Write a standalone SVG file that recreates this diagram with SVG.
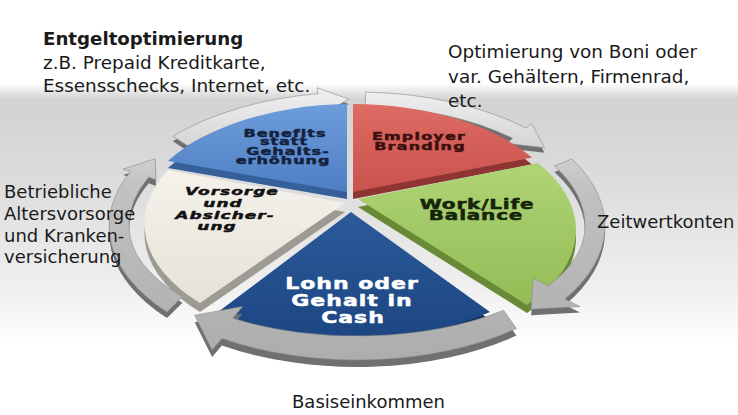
<svg xmlns="http://www.w3.org/2000/svg" width="738" height="415" viewBox="0 0 738 415">
<style>
.lbl{font-family:"DejaVu Sans",Verdana,sans-serif;font-size:18.4px;fill:#1a1a1a}
.w{font-family:"DejaVu Sans",Verdana,sans-serif;font-weight:bold;text-anchor:middle;stroke-width:0.7px;stroke-linejoin:round}
.side{fill:#707070}
.face{fill:url(#arrowFace);stroke:#8a8a8a;stroke-width:0.6}
</style>
<defs>
<linearGradient id="bg" x1="0" y1="0" x2="0" y2="1">
<stop offset="0" stop-color="#ffffff"/>
<stop offset="0.2" stop-color="#ffffff"/>
<stop offset="0.24" stop-color="#d2d2d2"/>
<stop offset="0.45" stop-color="#dddddd"/>
<stop offset="0.7" stop-color="#f0f0f0"/>
<stop offset="0.83" stop-color="#ffffff"/>
<stop offset="1" stop-color="#ffffff"/>
</linearGradient>
<linearGradient id="arrowFace" gradientUnits="userSpaceOnUse" x1="0" y1="85" x2="0" y2="375">
<stop offset="0" stop-color="#f2f2f2"/>
<stop offset="0.35" stop-color="#c2c2c2"/>
<stop offset="1" stop-color="#ababab"/>
</linearGradient>
<linearGradient id="gBen" x1="0" y1="0" x2="0" y2="1"><stop offset="0" stop-color="#6d9cdb"/><stop offset="1" stop-color="#4e7fc3"/></linearGradient>
<linearGradient id="gRed" x1="0" y1="0" x2="0" y2="1"><stop offset="0" stop-color="#de6b64"/><stop offset="1" stop-color="#c9524d"/></linearGradient>
<linearGradient id="gGrn" x1="0" y1="0" x2="0" y2="1"><stop offset="0" stop-color="#afd475"/><stop offset="1" stop-color="#93bc56"/></linearGradient>
<linearGradient id="gLoh" x1="0" y1="0" x2="0" y2="1"><stop offset="0" stop-color="#2b5a9a"/><stop offset="1" stop-color="#1d4682"/></linearGradient>
<linearGradient id="gBei" x1="0" y1="0" x2="0" y2="1"><stop offset="0" stop-color="#f4f2eb"/><stop offset="1" stop-color="#e5e2d7"/></linearGradient>
<path id="wBen" d="M347,192 L347,104 A215 118 0 0 0 168,161 Z"/>
<path id="wRed" d="M353,192 L353,104 A215 118 0 0 1 532,157.5 Z"/>
<path id="wGrn" d="M358,199 L538,163 A215 118 0 0 1 527,305 Z"/>
<path id="wLoh" d="M351,212 L490,312 A215 118 0 0 1 218,312 Z"/>
<path id="wBei" d="M345,203 L200,303 A215 118 0 0 1 168,170 Z"/>
<path id="aA" d="M172.7,136.3 A248 134 0 0 1 318.2,93.6 L317,87.7 L348.7,99.1 L322.6,114.4 L321.3,107.5 A228 120 0 0 0 187.6,145.7 Z"/>
<path id="aB" d="M365.7,92.1 A248 134 0 0 1 526.1,128 L531.6,123.6 L544.5,147.8 L507,143.4 L512.5,138.2 A228 120 0 0 0 365,106.1 Z"/>
<path id="aC" d="M571.8,159 A248 134 0 0 1 565,299 L580.1,306.6 L531.1,309.2 L533.1,278.3 L548.2,285.9 A228 110 0 0 0 585,226 A228 120 0 0 0 554.4,166 Z"/>
<path id="aD" d="M516.4,328.6 A248 134 0 0 1 221.9,338.4 L212.1,350.1 L194.7,315.2 L242.6,306.5 L232.8,318.3 A228 110 0 0 0 503.6,310.3 Z"/>
<path id="aE" d="M167,312.1 A248 134 0 0 1 130.5,171.5 L123.1,169.1 L155.2,158.7 L156,180 L148.7,177.2 A228 120 0 0 0 129,226 A228 110 0 0 0 182.4,296.7 Z"/>
</defs>

<rect x="0" y="0" width="738" height="415" fill="url(#bg)"/>

<g id="arrows-back">
<use href="#aA" class="side" transform="translate(0,5)"/>
<use href="#aA" class="face"/>
<use href="#aB" class="side" transform="translate(0,5)"/>
<use href="#aB" class="face"/>
</g>

<g id="node-benefits">
<use href="#wBen" fill="#35609a" transform="translate(0,7)"/>
<use href="#wBen" fill="url(#gBen)"/>
<g fill="#14213d" stroke="#14213d" style="font-size:16px;letter-spacing:1px">
<text class="w" transform="translate(285,136.5) scale(1,0.6)">Benefits</text>
<text class="w" transform="translate(284,145.3) scale(1,0.6)">statt</text>
<text class="w" transform="translate(288,154.5) scale(1,0.6)">Gehalts-</text>
<text class="w" transform="translate(283,163.5) scale(1,0.6)">erhöhung</text>
</g>
</g>

<g id="node-employer">
<use href="#wRed" fill="#8e3531" transform="translate(0,7)"/>
<use href="#wRed" fill="url(#gRed)"/>
<g fill="#3d1010" stroke="#3d1010" style="font-size:16px;letter-spacing:1.2px">
<text class="w" transform="translate(419,140) scale(1,0.62)">Employer</text>
<text class="w" transform="translate(420,149.5) scale(1,0.62)">Branding</text>
</g>
</g>

<g id="node-worklife">
<use href="#wGrn" fill="#688a36" transform="translate(0,8)"/>
<use href="#wGrn" fill="url(#gGrn)"/>
<g fill="#16240a" stroke="#16240a" style="font-size:20px;letter-spacing:0.8px">
<text class="w" transform="translate(477,209) scale(1,0.68)">Work/Life</text>
<text class="w" transform="translate(476,220) scale(1,0.68)">Balance</text>
</g>
</g>

<g id="node-lohn">
<use href="#wLoh" fill="#142f58" transform="translate(0,8)"/>
<use href="#wLoh" fill="url(#gLoh)"/>
<g fill="#ffffff" stroke="#ffffff" style="font-size:22px;letter-spacing:1px">
<text class="w" transform="translate(352,289) scale(1,0.75)">Lohn oder</text>
<text class="w" transform="translate(352,306) scale(1,0.75)">Gehalt in</text>
<text class="w" transform="translate(353,323) scale(1,0.75)">Cash</text>
</g>
</g>

<g id="node-vorsorge">
<use href="#wBei" fill="#9c9a92" transform="translate(0,9)"/>
<use href="#wBei" fill="url(#gBei)"/>
<g fill="#111111" stroke="#111111" style="font-size:17px;letter-spacing:1px;font-style:italic">
<text class="w" transform="translate(232,195) scale(1,0.66)">Vorsorge</text>
<text class="w" transform="translate(223,207) scale(1,0.66)">und</text>
<text class="w" transform="translate(225,219) scale(1,0.66)">Absicher-</text>
<text class="w" transform="translate(217,229.5) scale(1,0.66)">ung</text>
</g>
</g>

<g id="arrows-front">
<use href="#aC" class="side" transform="translate(0,6)"/>
<use href="#aC" class="face"/>
<use href="#aD" class="side" transform="translate(0,7)"/>
<use href="#aD" class="face"/>
<use href="#aE" class="side" transform="translate(0,6)"/>
<use href="#aE" class="face"/>
</g>

<g id="label-entgelt">
<text class="lbl"><tspan x="43" y="45" font-weight="bold" style="font-size:18.2px">Entgeltoptimierung</tspan><tspan x="43" y="69">z.B. Prepaid Kreditkarte,</tspan><tspan x="43" y="92">Essensschecks, Internet, etc.</tspan></text>
</g>
<g id="label-boni">
<text class="lbl"><tspan x="448" y="58">Optimierung von Boni oder</tspan><tspan x="448" y="83">var. Gehältern, Firmenrad,</tspan><tspan x="448" y="107">etc.</tspan></text>
</g>
<g id="label-altersvorsorge">
<text class="lbl" style="font-size:18px"><tspan x="4" y="198">Betriebliche</tspan><tspan x="4" y="220">Altersvorsorge</tspan><tspan x="4" y="242">und Kranken-</tspan><tspan x="4" y="263">versicherung</tspan></text>
</g>
<g id="label-zeitwert">
<text class="lbl" x="597" y="228" style="font-size:18px">Zeitwertkonten</text>
</g>
<g id="label-basis">
<text class="lbl" x="292" y="408" style="font-size:18px">Basiseinkommen</text>
</g>
</svg>
